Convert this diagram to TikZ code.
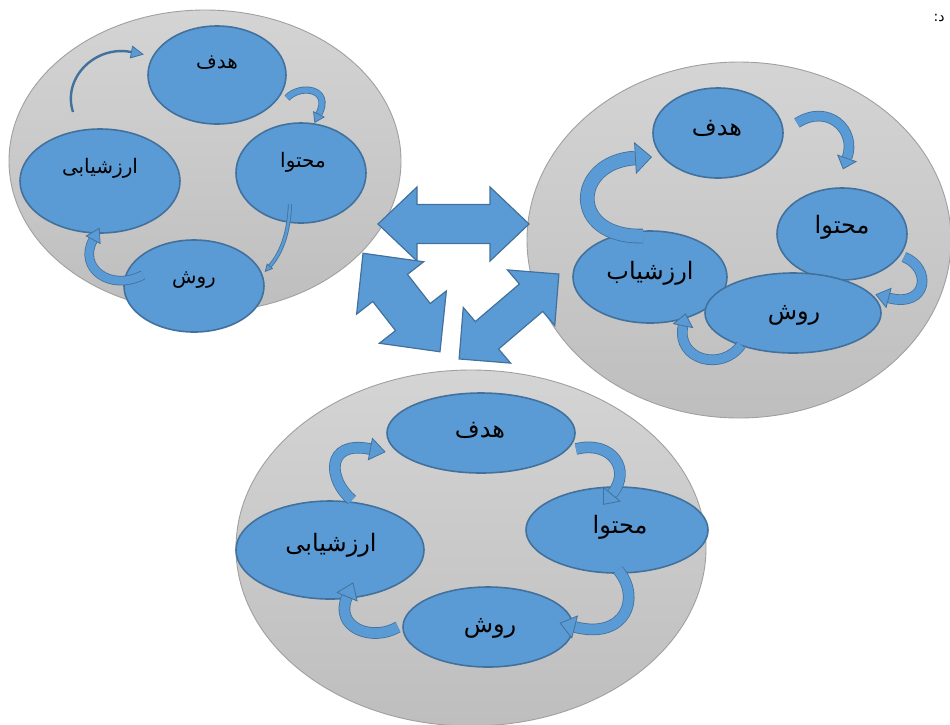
\documentclass[tikz,border=0pt]{standalone}
\usepackage{fontspec}
\newfontfamily\arabicfont[Script=Arabic]{DejaVu Sans}
\TeXXeTstate=1
\usetikzlibrary{arrows.meta,shapes.geometric}
\definecolor{blueA}{HTML}{5B9BD5}
\definecolor{blueD}{HTML}{41719C}
\definecolor{grayT}{HTML}{D4D4D4}
\definecolor{grayB}{HTML}{BEBEBE}
\definecolor{grayL}{HTML}{A0A0A0}
\tikzset{
  bigell/.style={ellipse, draw=grayL, line width=0.9pt, top color=grayT, bottom color=grayB, inner sep=0pt},
  ell/.style={ellipse, draw=blueD, line width=1.6pt, fill=blueA, inner sep=0pt},
  labbig/.style={font=\arabicfont\fontsize{24}{28}\selectfont, inner sep=0pt},
  labsmall/.style={font=\arabicfont\fontsize{20}{24}\selectfont, inner sep=0pt},
  band/.style={draw=blueD, line width=0.8pt, double=blueA, double distance=#1},
  bhead/.style 2 args={draw=blueD, line width=0.8pt, line join=miter, -{Triangle[length=#1, width=#2, fill=blueA]}},
  thinline/.style={draw=blueD, line width=2.4pt},
  bigarrow/.style={fill=blueA, draw=blueD, line width=1.2pt, line join=miter}
}
\begin{document}
\begin{tikzpicture}[x=1pt,y=-1pt]
\useasboundingbox (0,0) rectangle (950,724);
\fill[white] (0,0) rectangle (950,724);

% big gray ellipses
\node[bigell, minimum width=392pt, minimum height=302pt] (tl) at (205,161) {};
\node[bigell, minimum width=424pt, minimum height=356pt] (tr) at (739,240) {};
\node[bigell, minimum width=470pt, minimum height=356pt] (bt) at (471,548) {};

% ---- top-left group
\node[ell, minimum width=138pt, minimum height=98pt] (tlh) at (217,75) {};
\node[ell, minimum width=130pt, minimum height=100pt] (tlm) at (301,173) {};
\node[ell, minimum width=160pt, minimum height=104pt] (tla) at (100,181) {};
\node[ell, minimum width=140pt, minimum height=92pt] (tlr) at (194,286) {};
\node[labsmall] (tlht) at (217,63) {\beginR هدف\endR};
\node[labsmall] (tlmt) at (303,162) {\beginR محتوا\endR};
\node[labsmall] (tlat) at (100,168) {\beginR ارزشیابی\endR};
\node[labsmall] (tlrt) at (194,280) {\beginR روش\endR};

\draw[thinline] (73,112) coordinate (tl1s) .. controls (62,78) and (95,45) .. (131,52) coordinate (tl1e);
\coordinate (tl1t) at (143.8,54.5);
\draw[bhead={13pt}{13pt}] (tl1e) -- (tl1t);

\draw[band=5.5pt] (287,98) coordinate (tl2s) .. controls (300,84) and (332,88) .. (319,114) coordinate (tl2e);
\coordinate (tl2t) at (314.5,123);
\draw[bhead={10pt}{13pt}] (tl2e) -- (tl2t);

\draw[band=2.5pt] (290,204) coordinate (tl3s) .. controls (289,232) and (282,252) .. (270,266) coordinate (tl3e);
\coordinate (tl3t) at (264.8,272);
\draw[bhead={8pt}{8pt}] (tl3e) -- (tl3t);

\draw[band=8pt] (143,275) coordinate (tl4s) .. controls (110,292) and (78,268) .. (93,240) coordinate (tl4e);
\coordinate (tl4t) at (99.6,227.7);
\draw[bhead={14pt}{17pt}] (tl4e) -- (tl4t);

% ---- top-right group
\node[ell, minimum width=130pt, minimum height=90pt] (trh) at (718,133) {};
\node[ell, minimum width=130pt, minimum height=92pt] (trm) at (842,234) {};
\node[ell, minimum width=154pt, minimum height=92pt] (tra) at (650,277) {};
\node[ell, minimum width=176pt, minimum height=80pt] (trr) at (793,313) {};
\node[labbig] (trht) at (717,128) {\beginR هدف\endR};
\node[labbig] (trmt) at (842,227) {\beginR محتوا\endR};
\node[labbig] (trat) at (650,273) {\beginR ارزشیاب\endR};
\node[labbig] (trrt) at (794,315) {\beginR روش\endR};

\draw[band=9pt] (797,123) coordinate (tr1s) .. controls (828,103) and (857,130) .. (847,158) coordinate (tr1e);
\coordinate (tr1t) at (843,169.3);
\draw[bhead={12pt}{21pt}] (tr1e) -- (tr1t);

\draw[band=9pt] (904,257) coordinate (tr2s) .. controls (932,268) and (928,308) .. (889,298) coordinate (tr2e);
\coordinate (tr2t) at (875.4,294.5);
\draw[bhead={14pt}{21pt}] (tr2e) -- (tr2t);

\draw[band=9pt] (741,345) coordinate (tr3s) .. controls (722,372) and (676,360) .. (683,326) coordinate (tr3e);
\coordinate (tr3t) at (685.6,313.3);
\draw[bhead={13pt}{21pt}] (tr3e) -- (tr3t);

\draw[band=13pt] (643,236) coordinate (tr4s) .. controls (568,238) and (572,162) .. (635,158) coordinate (tr4e);
\coordinate (tr4t) at (652,157);
\draw[bhead={17pt}{32pt}] (tr4e) -- (tr4t);

% ---- bottom group
\node[ell, minimum width=188pt, minimum height=80pt] (bh) at (481,433) {};
\node[ell, minimum width=182pt, minimum height=86pt] (bm) at (617,530) {};
\node[ell, minimum width=188pt, minimum height=98pt] (ba) at (330,550) {};
\node[ell, minimum width=170pt, minimum height=80pt] (br) at (488,627) {};
\node[labbig] (bht) at (480,430) {\beginR هدف\endR};
\node[labbig] (bmt) at (620,527) {\beginR محتوا\endR};
\node[labbig] (bat) at (331,545) {\beginR ارزشیابی\endR};
\node[labbig] (brt) at (490,628) {\beginR روش\endR};

\draw[band=10pt] (352,500) coordinate (b1s) .. controls (328,480) and (325,440) .. (370,449) coordinate (b1e);
\coordinate (b1t) at (385.7,452);
\draw[bhead={16pt}{23pt}] (b1e) -- (b1t);

\draw[band=10pt] (576,449) coordinate (b2s) .. controls (612,440) and (632,470) .. (612,494) coordinate (b2e);
\coordinate (b2t) at (603,504.8);
\draw[bhead={14pt}{23pt}] (b2e) -- (b2t);

\draw[band=10pt] (618,570) coordinate (b3s) .. controls (642,598) and (625,640) .. (575,627) coordinate (b3e);
\coordinate (b3t) at (559.5,623);
\draw[bhead={16pt}{24pt}] (b3e) -- (b3t);

\draw[band=10pt] (398,627) coordinate (b4s) .. controls (372,642) and (334,628) .. (347,597) coordinate (b4e);
\coordinate (b4t) at (353.2,582.3);
\draw[bhead={16pt}{23pt}] (b4e) -- (b4t);

% ---- big double arrows
\begin{scope}[shift={(453.5,224)}]
\draw[bigarrow] (-75.5,0) -- (-36.5,-37) -- (-36.5,-19.5) -- (36.5,-19.5) -- (36.5,-37) -- (75.5,0) -- (36.5,37) -- (36.5,19.5) -- (-36.5,19.5) -- (-36.5,37) -- cycle;
\end{scope}
\begin{scope}[shift={(401.5,302.5)}, rotate=-52]
\draw[bigarrow] (-62.5,0) -- (-18.5,-42.5) -- (-18.5,-22) -- (18.5,-22) -- (18.5,-42.5) -- (62.5,0) -- (18.5,42.5) -- (18.5,22) -- (-18.5,22) -- (-18.5,42.5) -- cycle;
\end{scope}
\begin{scope}[shift={(509,316.5)}, rotate=40.4]
\draw[bigarrow] (-65.5,0) -- (-29,-36.5) -- (-29,-18) -- (29,-18) -- (29,-36.5) -- (65.5,0) -- (29,36.5) -- (29,18) -- (-29,18) -- (-29,36.5) -- cycle;
\end{scope}

\node[font=\arabicfont\fontsize{14}{16}\selectfont, inner sep=0pt] (corner) at (939,18) {\beginR د:\endR};
\end{tikzpicture}
\end{document}
